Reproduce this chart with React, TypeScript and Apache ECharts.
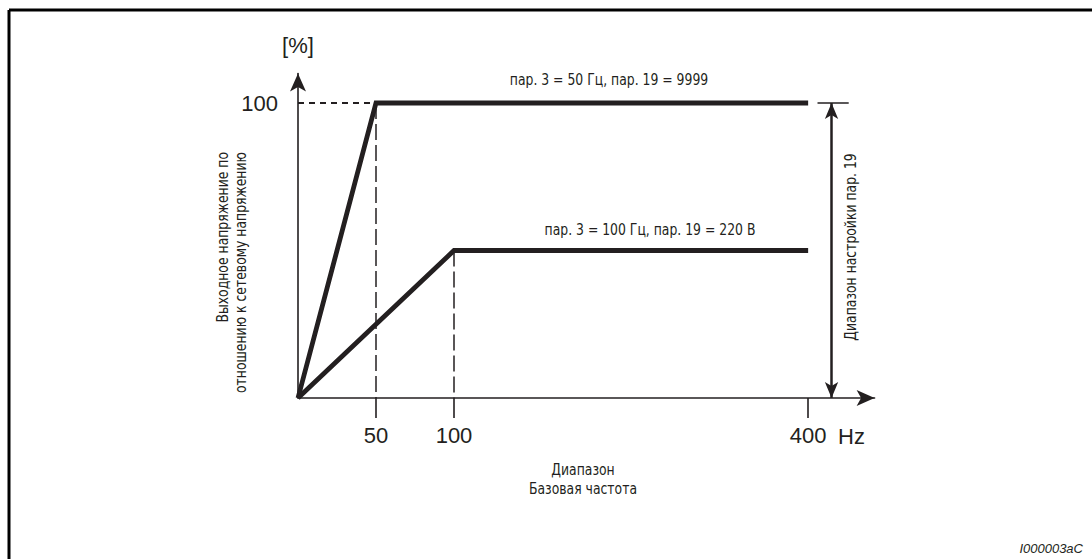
import React, { useEffect, useRef } from "react";
import * as echarts from "echarts";

// Schematic x positions (axis is not to scale) and their frequency labels
const xPositions = [0, 50, 100, 327];
const freqLabels = ["0", "50", "100", "400"];
// Output voltage [%] for each curve
const curve50HzX = [0, 50, 327]; // пар. 3 = 50 Гц, пар. 19 = 9999
const curve50HzY = [0, 100, 100];
const curve100HzX = [0, 100, 327]; // пар. 3 = 100 Гц, пар. 19 = 220 В
const curve100HzY = [0, 50, 50];
const yTicks = [100];
const rangeArrowX = 342;

const INK = "#231f20";
const NARROW = "'Liberation Sans Narrow', 'DejaVu Sans Condensed', 'Roboto Condensed', 'DejaVu Sans', sans-serif";
const ARIAL = "'Liberation Sans', Arial, Helvetica, sans-serif";

export default function App() {
  const ref = useRef<HTMLDivElement>(null);
  useEffect(() => {
    document.body.style.margin = "0";
    const chart = echarts.init(ref.current!, null, { renderer: "svg" });
    const xLabelMap: Record<number, string> = {};
    xPositions.forEach((p, i) => (xLabelMap[p] = freqLabels[i]));
    const pair = (xs: number[], ys: number[]) => xs.map((x, i) => [x, ys[i]]);
    const txt = (x: number, y: number, text: string, extra: any = {}, style: any = {}) => ({
      type: "text",
      x,
      y,
      scaleX: 0.92,
      ...extra,
      style: { text, font: `15px ${NARROW}`, fill: INK, align: "center", verticalAlign: "middle", ...style },
    });

    chart.setOption({
      animation: false,
      grid: { left: 298, right: 217.4, top: 73.5, bottom: 161 },
      xAxis: {
        type: "value",
        min: 0,
        max: 369.6,
        splitLine: { show: false },
        axisLine: {
          show: true,
          lineStyle: { color: INK, width: 1.6 },
          symbol: ["none", "arrow"],
          symbolSize: [12, 18],
        },
        axisTick: {
          show: true,
          length: 20,
          lineStyle: { color: INK, width: 1.6 },
          customValues: xPositions.slice(1),
        },
        axisLabel: {
          show: true,
          customValues: xPositions.slice(1),
          formatter: (v: number) => xLabelMap[v] ?? "",
          fontSize: 22,
          fontFamily: ARIAL,
          color: INK,
          margin: 26,
        },
      },
      yAxis: {
        type: "value",
        min: 0,
        max: 110,
        splitLine: { show: false },
        axisLine: {
          show: true,
          lineStyle: { color: INK, width: 1.6 },
          symbol: ["none", "arrow"],
          symbolSize: [12, 18],
        },
        axisTick: { show: false },
        axisLabel: {
          show: true,
          customValues: yTicks,
          fontSize: 22,
          fontFamily: ARIAL,
          color: INK,
          margin: 20,
        },
      },
      series: [
        {
          type: "line",
          data: pair(curve50HzX, curve50HzY),
          symbol: "none",
          lineStyle: { color: INK, width: 4.8, join: "miter" },
          z: 5,
          markLine: {
            silent: true,
            symbol: "none",
            label: { show: false },
            data: [
              [
                { coord: [0, 100], lineStyle: { type: [6, 5], width: 2, color: INK } },
                { coord: [50, 100] },
              ],
              [
                { coord: [50, 100], lineStyle: { type: [16, 5], width: 1.5, color: INK } },
                { coord: [50, 0] },
              ],
              [
                { coord: [100, 50], lineStyle: { type: [16, 5], width: 1.5, color: INK } },
                { coord: [100, 0] },
              ],
              [
                { coord: [rangeArrowX - 9, 100], lineStyle: { type: "solid", width: 1.5, color: INK } },
                { coord: [rangeArrowX + 11, 100] },
              ],
            ],
          },
        },
        {
          type: "line",
          data: pair(curve100HzX, curve100HzY),
          symbol: "none",
          lineStyle: { color: INK, width: 4.8, join: "miter" },
          z: 5,
          markLine: {
            silent: true,
            symbol: ["arrow", "arrow"],
            symbolSize: [10, 16],
            label: { show: false },
            lineStyle: { type: "solid", width: 2.5, color: INK },
            data: [[{ coord: [rangeArrowX, 100] }, { coord: [rangeArrowX, 0] }]],
          },
        },
      ],
      graphic: [
        { type: "line", shape: { x1: 9, y1: 10, x2: 1092, y2: 10 }, style: { stroke: "#000", lineWidth: 3 } },
        { type: "line", shape: { x1: 9, y1: 10, x2: 9, y2: 559 }, style: { stroke: "#000", lineWidth: 3 } },
        { type: "text", x: 298, y: 45, style: { text: "[%]", font: `22px ${ARIAL}`, fill: INK, align: "center", verticalAlign: "middle" } },
        { type: "text", x: 838, y: 436, style: { text: "Hz", font: `22px ${ARIAL}`, fill: INK, align: "left", verticalAlign: "middle" } },
        txt(609, 80, "пар. 3 = 50 Гц, пар. 19 = 9999"),
        txt(650, 230, "пар. 3 = 100 Гц, пар. 19 = 220 В"),
        txt(223, 152, "Выходное напряжение по", { rotation: Math.PI / 2 }, { align: "right" }),
        txt(241, 152, "отношению к сетевому напряжению", { rotation: Math.PI / 2 }, { align: "right" }),
        txt(851, 247, "Диапазон настройки пар. 19", { rotation: Math.PI / 2 }),
        txt(583, 470, "Диапазон"),
        txt(583, 489, "Базовая частота"),
        { type: "text", x: 1083, y: 548, style: { text: "I000003aC", font: `italic 13px ${ARIAL}`, fill: INK, align: "right", verticalAlign: "middle" } },
      ],
    });
    return () => chart.dispose();
  }, []);
  return <div ref={ref} style={{ position: "absolute", left: 0, top: 0, width: 1092, height: 559, background: "#fff" }} />;
}
